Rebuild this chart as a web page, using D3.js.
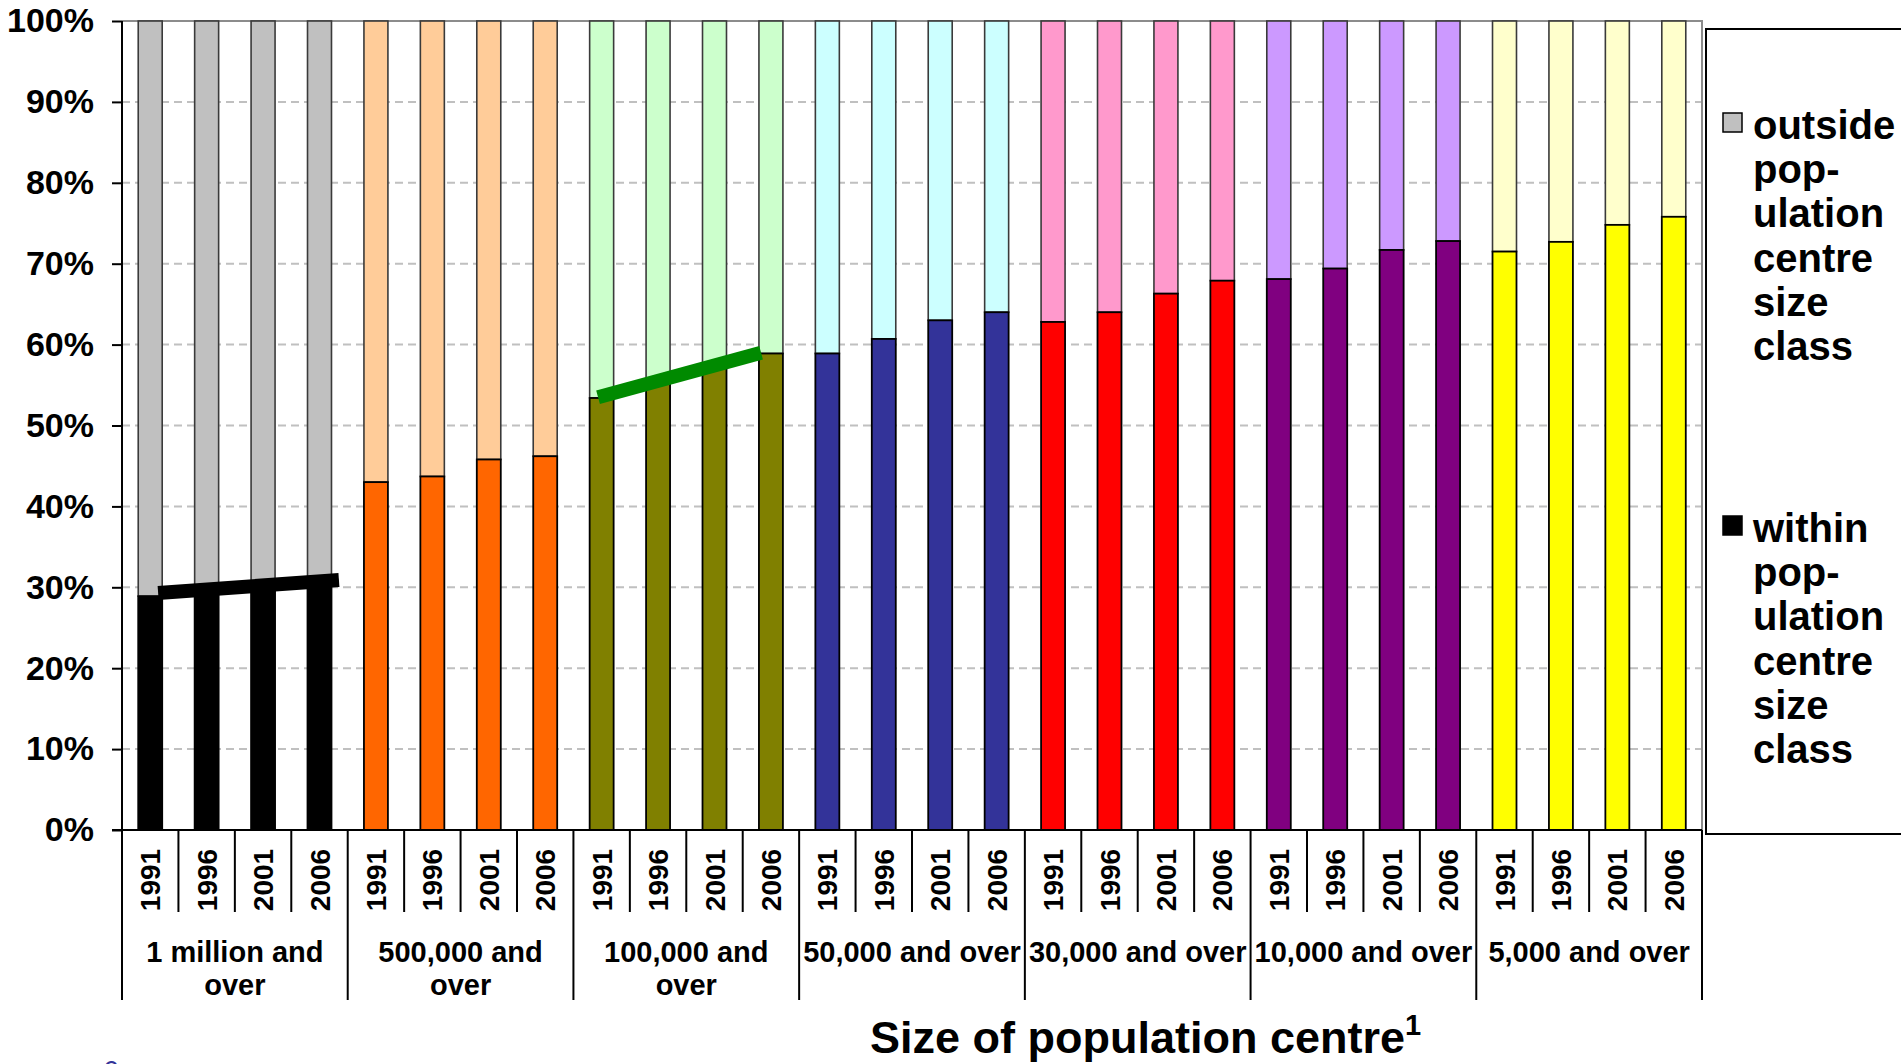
<!DOCTYPE html>
<html>
<head>
<meta charset="utf-8">
<script src="https://cdn.jsdelivr.net/npm/d3@7"></script>
<style>
  html, body { margin: 0; padding: 0; background: #ffffff; overflow: hidden; }
  svg { display: block; font-family: "Liberation Sans", Arial, sans-serif; }
</style>
</head>
<body>
<svg id="chart" width="1901" height="1064"></svg>
<script>
// Size classes of population centres (outer category level)
const categories = ["1 million and over", "500,000 and over", "100,000 and over",
  "50,000 and over", "30,000 and over", "10,000 and over", "5,000 and over"];
const categoryLabelLines = [
  ["1 million and", "over"], ["500,000 and", "over"], ["100,000 and", "over"],
  ["50,000 and over"], ["30,000 and over"], ["10,000 and over"], ["5,000 and over"]
];
// Census years (inner category level)
const years = ["1991", "1996", "2001", "2006"];

// Share of population living within the size class (%), one row per size class
const withinShare = [
  [28.9, 29.9, 30.6, 31.2],
  [43.0, 43.7, 45.8, 46.2],
  [53.4, 55.5, 57.3, 58.9],
  [58.9, 60.7, 63.0, 64.0],
  [62.8, 64.0, 66.3, 67.9],
  [68.1, 69.4, 71.7, 72.8],
  [71.5, 72.7, 74.8, 75.8]
];

const withinColors  = ["#000000", "#ff6600", "#808000", "#333399", "#ff0000", "#800080", "#ffff00"];
const outsideColors = ["#c0c0c0", "#ffcc99", "#ccffcc", "#ccffff", "#ff99cc", "#cc99ff", "#ffffcc"];

const yTicks = [0, 10, 20, 30, 40, 50, 60, 70, 80, 90, 100];

// Highlighted trends (size class index, 1991 level, 2006 level)
const trendGroups = [0, 2];
const trendFrom = [29.3, 53.5];
const trendTo = [30.9, 59.0];
const trendColors = ["#000000", "#008a00"];

const legendOutside = ["outside", "pop-", "ulation", "centre", "size", "class"];
const legendWithin = ["within", "pop-", "ulation", "centre", "size", "class"];

const axisTitle = "Size of population centre";

// ---- layout ----
const plotLeft = 122, plotRight = 1702, plotTop = 21, plotBottom = 830;
const svg = d3.select("#chart");

const keys = [];
categories.forEach((c, ci) => years.forEach((yr, yi) => keys.push({ ci, yi, key: ci + "|" + yr })));

const x = d3.scaleBand()
  .domain(keys.map(k => k.key))
  .range([plotLeft, plotRight])
  .paddingInner(0.575)
  .paddingOuter(0.2875);
const step = x.step();
const slotStart = i => plotLeft + i * step;

const y = d3.scaleLinear().domain([0, 100]).range([plotBottom, plotTop]);

// gridlines
svg.append("g")
  .selectAll("line")
  .data(yTicks.filter(t => t > 0 && t < 100))
  .join("line")
  .attr("x1", plotLeft).attr("x2", plotRight)
  .attr("y1", d => y(d)).attr("y2", d => y(d))
  .attr("stroke", "#c0c0c0").attr("stroke-width", 2)
  .attr("stroke-dasharray", "8,5");

// plot frame (top and right)
svg.append("path")
  .attr("d", `M${plotLeft},${y(100)}H${plotRight}V${plotBottom}`)
  .attr("fill", "none").attr("stroke", "#8c8c8c").attr("stroke-width", 2);

// bars: outside part on top, within part at the bottom
const barG = svg.append("g");
keys.forEach(k => {
  const v = withinShare[k.ci][k.yi];
  barG.append("rect")
    .attr("x", x(k.key)).attr("width", x.bandwidth())
    .attr("y", y(100)).attr("height", y(v) - y(100))
    .attr("fill", outsideColors[k.ci])
    .attr("stroke", "#3a3a3a").attr("stroke-width", 1.6);
  barG.append("rect")
    .attr("x", x(k.key)).attr("width", x.bandwidth())
    .attr("y", y(v)).attr("height", y(0) - y(v))
    .attr("fill", withinColors[k.ci])
    .attr("stroke", "#000").attr("stroke-width", 1.8);
});

// trend strokes
const trendOffsets = [[0.83, 1.31], [0.35, 0.09]];
trendGroups.forEach((g, i) => {
  const k0 = g + "|" + years[0], k1 = g + "|" + years[years.length - 1];
  svg.append("line")
    .attr("x1", x(k0) + trendOffsets[i][0] * x.bandwidth())
    .attr("x2", x(k1) + trendOffsets[i][1] * x.bandwidth())
    .attr("y1", y(trendFrom[i])).attr("y2", y(trendTo[i]))
    .attr("stroke", trendColors[i]).attr("stroke-width", 14);
});

// y axis
const yAxis = d3.axisLeft(y).tickValues(yTicks).tickFormat(d => d + "%").tickSize(10).tickPadding(18);
const yg = svg.append("g").attr("transform", `translate(${plotLeft},0)`).call(yAxis);
yg.select(".domain").attr("stroke", "#000").attr("stroke-width", 2).attr("d", `M0,${plotTop}V${plotBottom}`);
yg.selectAll(".tick line").attr("stroke", "#000").attr("stroke-width", 2);
yg.selectAll(".tick text").attr("font-size", 34).attr("font-weight", "bold").attr("fill", "#000")
  .attr("font-family", "Liberation Sans, Arial, sans-serif");

// category axis: baseline, year cells, size class cells
const axG = svg.append("g").attr("stroke", "#000").attr("stroke-width", 2);
axG.append("line").attr("x1", plotLeft - 10).attr("x2", plotRight).attr("y1", plotBottom).attr("y2", plotBottom);
for (let i = 0; i <= keys.length; i++) {
  const isGroup = i % years.length === 0;
  axG.append("line")
    .attr("x1", slotStart(i)).attr("x2", slotStart(i))
    .attr("y1", plotBottom).attr("y2", isGroup ? 1000 : 912);
}

svg.append("g")
  .selectAll("text")
  .data(keys)
  .join("text")
  .attr("transform", d => `translate(${x(d.key) + x.bandwidth() / 2 + 10},880) rotate(-90)`)
  .attr("text-anchor", "middle")
  .attr("font-size", 28).attr("font-weight", "bold")
  .text(d => years[d.yi]);

categoryLabelLines.forEach((lines, ci) => {
  const cx = slotStart(ci * years.length) + step * years.length / 2;
  const t = svg.append("text")
    .attr("text-anchor", "middle")
    .attr("font-size", 29).attr("font-weight", "bold");
  lines.forEach((ln, li) => {
    t.append("tspan").attr("x", cx).attr("y", 962 + li * 33).text(ln);
  });
});

// axis title
const title = svg.append("text")
  .attr("x", 870).attr("y", 1053)
  .attr("font-size", 45).attr("font-weight", "bold");
title.append("tspan").text(axisTitle);
title.append("tspan").attr("font-size", 29).attr("dy", -18).text("1");

// page marker at the lower edge
svg.append("text").attr("x", 103).attr("y", 1080)
  .attr("font-size", 28).attr("fill", "#333399").text("6");

// legend
svg.append("rect")
  .attr("x", 1706).attr("y", 29).attr("width", 260).attr("height", 805)
  .attr("fill", "#fff").attr("stroke", "#000").attr("stroke-width", 2);

function legendEntry(lines, color, baseY) {
  svg.append("rect")
    .attr("x", 1723).attr("y", baseY - 26).attr("width", 19).attr("height", 19)
    .attr("fill", color).attr("stroke", "#000").attr("stroke-width", 1.5);
  const t = svg.append("text").attr("font-size", 40).attr("font-weight", "bold");
  lines.forEach((ln, i) => t.append("tspan").attr("x", 1753).attr("y", baseY + i * 44.2).text(ln));
}
legendEntry(legendOutside, outsideColors[0], 139);
legendEntry(legendWithin, withinColors[0], 542);
</script>
</body>
</html>
